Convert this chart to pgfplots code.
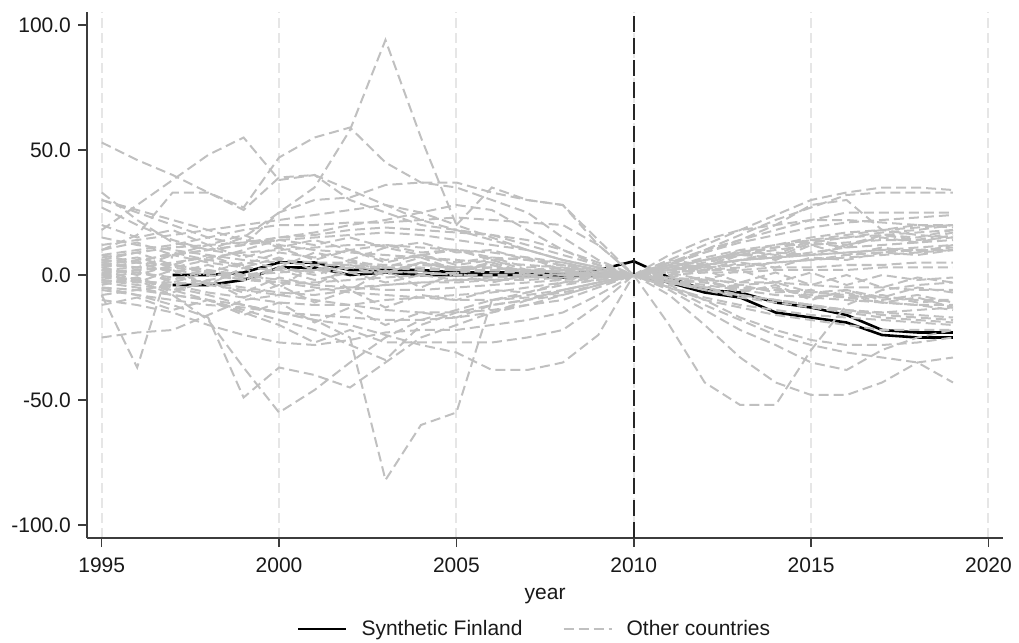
\documentclass[border=0pt]{standalone}
\usepackage{fontspec}
\setmainfont{Liberation Sans}
\usepackage{pgfplots}
\usepackage{pgfplotstable}
\pgfplotsset{compat=1.18}
\definecolor{ln}{RGB}{192,192,192}
\definecolor{grd}{RGB}{230,230,230}
\definecolor{axc}{RGB}{60,60,60}

\pgfplotstableread{
name 1995 1996 1997 1998 1999 2000 2001 2002 2003 2004 2005 2006 2007 2008 2009 2010 2011 2012 2013 2014 2015 2016 2017 2018 2019
b1 nan nan 0 0 1 5 5 2 2 2 1 1 1 0 2 5.5 -1 -6 -7 -11 -13 -16 -22 -23 -23
b2 nan nan -4 -4 -2 3 3 0 1 0 0 0 0 -1 0 0 -3 -7 -9 -15 -17 -19 -24 -25 -25
g1 53 46 40 33 26 39 40 34 28 22 18 14 10 6 3 0 6 12 18 24 30 33 35 35 34
g2 18 28 38 48 55 38 40 30 25 20 18 16 12 8 4 0 4 10 16 22 27 32 33 33 33
g3 5 3 8 10 15 25 35 58 94 55 20 15 10 6 3 0 5 10 14 18 22 25 25 25 25
g4 10 16 33 33 27 47 55 59 45 37 35 30 25 15 6 0 4 9 14 20 28 30 18 16 15
g5 33 22 13 10 12 15 17 20 22 25 28 26 18 10 4 0 -2 -5 -8 -10 -12 -15 -15 -14 -13
g6 30 25 20 15 12 25 30 31 36 37 37 33 30 28 14 0 -5 -10 -13 -16 -18 -20 -22 -22 -22
g7 12 14 16 18 20 22 24 26 28 25 20 35 30 28 12 0 3 7 10 12 14 15 16 17 18
g8 8 10 12 15 18 20 20 21 21 22 23 22 21 20 12 0 2 5 8 11 14 16 18 20 20
g9 -25 -23 -22 -16 -10 -8 -6 -5 -4 -3 -3 -2 -2 -1 -1 0 -20 -43 -52 -52 -30 -12 -6 -4 -3
g10 -8 -37 8 5 3 2 2 1 1 1 0 0 0 0 0 0 -8 -20 -33 -43 -48 -48 -43 -35 -33
g11 -5 -8 -12 -17 -49 -37 -40 -45 -35 -25 -20 -15 -10 -6 -3 0 -5 -12 -18 -24 -28 -31 -33 -35 -43
g12 2 -2 -8 -18 -37 -55 -46 -35 -25 -18 -14 -10 -7 -4 -2 0 -6 -14 -22 -28 -35 -38 -30 -25 -22
g13 -10 -12 -15 -20 -24 -27 -28 -26 -23 -22 -22 -20 -18 -15 -8 0 -4 -10 -17 -22 -26 -28 -28 -27 -25
g14 0 -2 -5 -8 -12 -15 -18 -25 -82 -60 -55 -10 -8 -6 -3 0 3 6 9 12 15 17 18 19 20
g15 -3 -5 -8 -10 -12 -15 -18 -20 -24 -28 -31 -38 -38 -35 -24 0 5 9 13 16 19 21 22 23 24
g16 -2 -4 -6 -10 -15 -20 -27 -22 -27 -27 -27 -27 -25 -22 -12 0 -3 -5 -8 -10 -12 -14 -15 -16 -17
g17 -5 -6 -8 -10 -14 -18 -22 -28 -34 -20 -15 -12 -10 -8 -4 0 2 4 6 7 8 9 10 11 12
g18 8 5 9 6 10 14 12 15 11 13 9 10 6 5 2 0 3 2 6 9 8 12 15 13 16
g19 5 7 3 6 4 9 7 10 6 8 5 7 3 4 1 0 -2 -1 -4 -3 -7 -6 -10 -8 -11
g20 3 0 4 1 5 3 9 6 11 8 10 6 7 2 3 0 4 3 8 7 13 11 16 14 17
g21 0 2 -3 1 -2 3 1 6 3 7 2 5 1 3 -1 0 -3 -2 -6 -5 -9 -7 -11 -9 -13
g22 -3 -1 -6 -3 -7 -1 -4 3 0 5 2 4 0 2 -1 0 2 1 5 3 7 6 9 8 10
g23 2 1 -1 -3 -5 -7 -8 -6 -4 -3 -2 -2 -1 -1 0 0 2 4 6 7 9 11 12 13 14
g24 6 5 4 2 0 -2 -4 -5 -6 -6 -5 -4 -3 -2 -1 0 -1 -3 -5 -6 -8 -9 -11 -12 -14
g25 -1 -2 -4 -7 -9 -11 -12 -12 -10 -9 -8 -7 -5 -3 -1 0 3 6 9 11 13 15 17 18 20
g26 4 6 8 10 12 14 15 16 17 16 14 12 10 6 3 0 -2 -4 -6 -8 -9 -10 -11 -12 -12
g27 1 2 3 1 -1 -3 -5 -7 -8 -9 -10 -10 -9 -7 -4 0 1 2 2 3 3 4 4 5 5
g28 30 26 22 18 14 12 10 9 8 7 6 5 4 3 1 0 -1 -2 -3 -3 -4 -5 -5 -6 -6
g29 27 20 14 10 8 6 5 5 4 4 3 3 2 1 0 0 2 3 4 5 6 8 9 10 11
g30 15 12 10 8 6 5 4 4 3 2 2 1 1 0 0 0 -3 -6 -8 -10 -12 -14 -16 -17 -18
g31 -6 -8 -10 -12 -13 -15 -16 -17 -18 -18 -17 -15 -12 -8 -4 0 2 4 6 7 8 9 10 10 10
g32 7 9 11 12 13 15 16 18 19 18 17 16 14 10 5 0 3 6 8 10 12 13 14 14 15
g33 -8 -6 -4 -2 0 1 2 3 3 3 2 2 1 1 0 0 -2 -3 -5 -6 -7 -8 -9 -10 -10
g34 2 3 5 7 9 10 11 12 12 11 10 9 7 5 2 0 0 1 1 2 2 2 3 3 3
g35 -2 -3 -3 -4 -6 -8 -10 -12 -14 -15 -15 -14 -12 -10 -5 0 -3 -6 -9 -11 -13 -15 -17 -18 -19
g36 4 3 2 0 -2 -3 -3 -2 -1 0 1 2 2 1 1 0 1 2 3 5 6 7 8 9 10
g37 6 9 4 8 3 7 2 6 1 5 3 4 1 2 0 0 -4 -2 -7 -4 -10 -6 -9 -5 -7
g38 -4 -1 -7 -2 -9 -4 -11 -6 -13 -8 -10 -6 -7 -3 -2 0 5 3 9 6 12 8 11 9 12
g39 10 13 8 12 7 11 6 10 5 8 4 6 2 3 1 0 -1 2 -3 1 -4 0 -5 -1 -3
g40 1 -3 2 -4 3 -5 4 -6 2 -5 1 -3 0 -2 0 0 1 -2 2 -3 1 -4 0 -2 -1
g41 -12 -9 -14 -10 -16 -11 -19 -13 -20 -15 -17 -12 -10 -6 -3 0 6 4 10 8 14 12 16 15 18
g42 20 15 18 12 16 11 14 10 12 9 10 7 6 4 2 0 -3 -5 -4 -7 -6 -9 -8 -11 -10
g43 -1 1 -2 2 -1 3 0 4 1 5 2 3 1 2 0 0 -5 -9 -12 -14 -16 -17 -18 -19 -20
g44 3 5 1 4 0 2 -2 1 -3 0 -2 -1 -1 0 0 0 8 14 18 20 22 22 21 20 19
}\raw
\pgfplotstabletranspose[colnames from=name]\data\raw

\begin{document}
\fontsize{10.5}{12.6}\selectfont
\begin{tikzpicture}
\begin{axis}[name=a,
  scale only axis, width=457.85pt, height=263pt,
  xmin=1994.594, xmax=2020.41, ymin=-105.2, ymax=105.2,
  axis x line=bottom, axis y line=left,
  axis line style={-, axc, line width=0.8pt},
  xtick={1995,2000,...,2020}, ytick={-100,-50,0,50,100},
  tick align=outside, major tick length=4.5pt,
  tick style={axc, line width=0.8pt},
  minor tick num=0,
  xmajorgrids, grid style={grd, line width=1pt, dash pattern=on 5pt off 2.5pt},
  /pgf/number format/assume math mode=true,
  xticklabel style={/pgf/number format/1000 sep={}, yshift=-1.5pt, text=black!90},
  yticklabel style={/pgf/number format/fixed, /pgf/number format/fixed zerofill, /pgf/number format/precision=1, text=black!90},
  xlabel={year},
  xlabel style={at={(axis description cs:0.5,-0.116)}, anchor=base, text=black!90},
  legend columns=2,
  legend style={at={(axis description cs:0.4906,-0.173)}, anchor=center, draw=none, fill=none,
    /tikz/every even column/.append style={column sep=17pt}, text=black!90,
    nodes={inner sep=3pt}},
  legend image code/.code={\draw[#1] (0pt,0pt) -- (24pt,0pt); \path (28pt,0pt);},
]
\addplot[black, line width=1.3pt] table[x=colnames, y=b1] {\data};
\addlegendentry{Synthetic Finland}
\addplot[black, line width=1.3pt, forget plot] table[x=colnames, y=b2] {\data};
\addplot[ln, line width=1pt, dash pattern=on 5pt off 2.5pt] table[x=colnames, y=g1] {\data};
\addlegendentry{Other countries}
\pgfplotsinvokeforeach{2,...,44}{
  \addplot[ln, line width=1pt, dash pattern=on 5pt off 2.5pt, forget plot] table[x=colnames, y=g#1] {\data};
}
\addplot[black!85, line width=1pt, dash pattern=on 8pt off 3pt, forget plot] coordinates {(2010,-105.2) (2010,105.2)};
\end{axis}
\pgfresetboundingbox
\path[use as bounding box] ([shift={(-43.65pt,-52.5pt)}]a.south west) rectangle ([shift={(8pt,6pt)}]a.north east);
\end{tikzpicture}
\end{document}
